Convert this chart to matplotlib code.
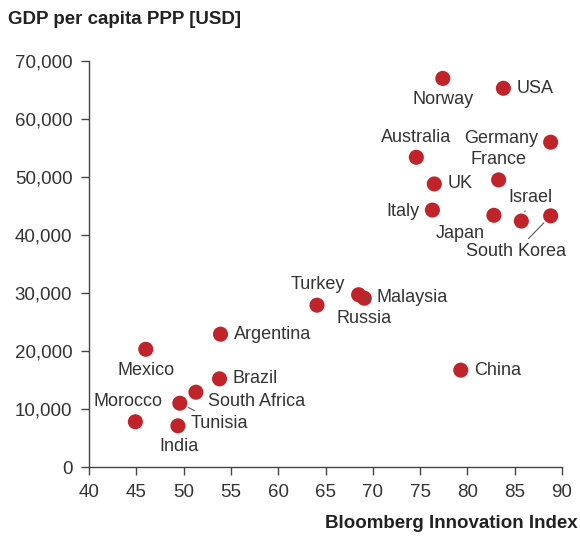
import matplotlib
matplotlib.use("Agg")
import matplotlib.pyplot as plt
from matplotlib.ticker import FuncFormatter

plt.rcParams['font.family'] = ['Liberation Sans Narrow', 'Liberation Sans', 'DejaVu Sans']

countries = ["Norway", "USA", "Germany", "Australia", "France", "UK", "Italy", "Japan",
             "Israel", "South Korea", "Turkey", "Russia", "Malaysia", "China", "Argentina",
             "Mexico", "Brazil", "South Africa", "Tunisia", "Morocco", "India"]
innovation = [77.4, 83.8, 88.8, 74.6, 83.3, 76.5, 76.3, 82.8,
              85.7, 88.8, 64.1, 68.5, 69.1, 79.3, 53.9,
              46.0, 53.8, 51.3, 49.6, 44.9, 49.4]
gdp = [67000, 65300, 56000, 53400, 49500, 48800, 44300, 43400,
       42400, 43300, 27900, 29700, 29100, 16700, 22900,
       20300, 15200, 12900, 11000, 7800, 7100]

# label offsets in pixels (dx, dy up), alignment, leader line
label_pos = {
    "Norway": (0, -21, 'center', False),
    "USA": (13, 0, 'left', False),
    "Germany": (-13, 4, 'right', False),
    "Australia": (0, 20, 'center', False),
    "France": (0, 20, 'center', False),
    "UK": (13, 0, 'left', False),
    "Italy": (-13, -1, 'right', False),
    "Japan": (-34, -18, 'center', False),
    "Israel": (9, 24, 'center', True),
    "South Korea": (-35, -36, 'center', True),
    "Turkey": (1, 21, 'center', False),
    "Russia": (5, -24, 'center', False),
    "Malaysia": (12, 1, 'left', True),
    "China": (13, 0, 'left', False),
    "Argentina": (13, 0, 'left', False),
    "Mexico": (0, -21, 'center', False),
    "Brazil": (13, 0, 'left', False),
    "South Africa": (12, -9, 'left', False),
    "Tunisia": (11, -20, 'left', True),
    "Morocco": (-7, 20, 'center', False),
    "India": (1, -21, 'center', False),
}

red = "#C1232B"
txt = "#333333"

fig = plt.figure(figsize=(5.8, 5.36), dpi=100)
ax = fig.add_axes([89/580, 1-467/536, (562-89)/580, (467-61)/536])
ax.scatter(innovation, gdp, s=118, color=red, edgecolors='none', zorder=3, clip_on=False)

for c, x, y in zip(countries, innovation, gdp):
    dx, dy, ha, leader = label_pos[c]
    kw = {}
    if leader:
        kw['arrowprops'] = dict(arrowstyle='-', color='#555555', lw=0.8, shrinkA=2, shrinkB=7)
    ax.annotate(c, (x, y), xytext=(dx, dy), textcoords='offset pixels', ha=ha, va='center',
                fontsize=13, color=txt, **kw)

ax.set_xlim(40, 90)
ax.set_ylim(0, 70000)
ax.set_xticks(range(40, 91, 5))
ax.set_yticks(range(0, 70001, 10000))
ax.yaxis.set_major_formatter(FuncFormatter(lambda v, p: f"{int(v):,}"))
for s in ['top', 'right']:
    ax.spines[s].set_visible(False)
for s in ['left', 'bottom']:
    ax.spines[s].set_color('#444444')
    ax.spines[s].set_linewidth(1.0)
ax.tick_params(axis='both', direction='out', length=6, width=1, color='#444444',
               labelsize=13.5, labelcolor=txt, pad=6)

fig.text(8/580, 1-20/536, "GDP per capita PPP [USD]", fontsize=13.5, fontweight='bold',
         color='#222222', ha='left', va='center')
fig.text(578/580, 1-524/536, "Bloomberg Innovation Index", fontsize=13.5, fontweight='bold',
         color='#222222', ha='right', va='center')

fig.savefig("out.png", dpi=100)
